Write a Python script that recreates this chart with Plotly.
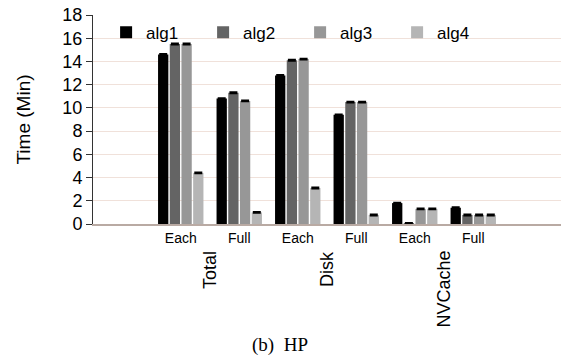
import plotly.graph_objects as go

categories = ["Each", "Full", "Each", "Full", "Each", "Full"]
groups = ["Total", "Disk", "NVCache"]
series_names = ["alg1", "alg2", "alg3", "alg4"]
alg1 = [14.6, 10.8, 12.8, 9.4, 1.8, 1.4]
alg2 = [15.5, 11.3, 14.1, 10.5, 0.05, 0.78]
alg3 = [15.5, 10.6, 14.2, 10.5, 1.3, 0.78]
alg4 = [4.4, 1.0, 3.1, 0.78, 1.3, 0.78]
errors = [0.06, 0.06, 0.06, 0.06, 0.06, 0.06]
colors = ["#000000", "#646464", "#979797", "#b5b5b5"]
yticks = [0, 2, 4, 6, 8, 10, 12, 14, 16, 18]

xpos = list(range(1, len(categories) + 1))
fig = go.Figure()
for name, vals, col in zip(series_names, [alg1, alg2, alg3, alg4], colors):
    fig.add_trace(go.Bar(
        x=xpos, y=vals, name=name, marker=dict(color=col, line=dict(width=0)),
        error_y=dict(type="data", array=errors, visible=True, color="black", thickness=1.5, width=4),
    ))

font = "Liberation Sans, Arial, sans-serif"
fig.update_layout(
    width=561, height=364,
    margin=dict(l=93, r=0, t=15, b=140),
    plot_bgcolor="white", paper_bgcolor="white",
    barmode="group", bargap=0.2, bargroupgap=0.12,
    font=dict(family=font, color="black"),
    showlegend=True,
    legend=dict(orientation="h", x=0.028, y=0.915, xanchor="left", yanchor="middle",
                font=dict(size=17, family=font), entrywidth=52, entrywidthmode="pixels",
                bgcolor="rgba(0,0,0,0)", itemsizing="constant", tracegroupgap=0),
    xaxis=dict(range=[-0.5, 7.5], tickmode="array", tickvals=xpos, ticktext=categories,
               showgrid=False, zeroline=False, showline=True, linecolor="#b9aaa3", linewidth=1.5,
               ticks="", tickfont=dict(size=14, family=font)),
    yaxis=dict(range=[0, 18], tickmode="array", tickvals=yticks, showgrid=True, gridcolor="#f0e1da",
               gridwidth=1.2, zeroline=False, showline=True, linecolor="#333333", linewidth=1,
               ticks="outside", ticklen=6, tickcolor="#333333", tickfont=dict(size=18, family=font),
               title=dict(text="Time (Min)", font=dict(size=19, family=font), standoff=26)),
)

for i, g in enumerate(groups):
    fig.add_annotation(x=xpos[2 * i] + 0.5, y=-0.12, xref="x", yref="paper", text=g, showarrow=False,
                       textangle=-90, yanchor="top", xanchor="center", font=dict(size=18, family=font))

fig.add_annotation(x=0.40, y=-0.58, xref="paper", yref="paper", text="(b)  HP", showarrow=False,
                   xanchor="center", yanchor="middle",
                   font=dict(size=19, family="Liberation Serif, Times New Roman, serif"))

fig.write_html("out.html")
